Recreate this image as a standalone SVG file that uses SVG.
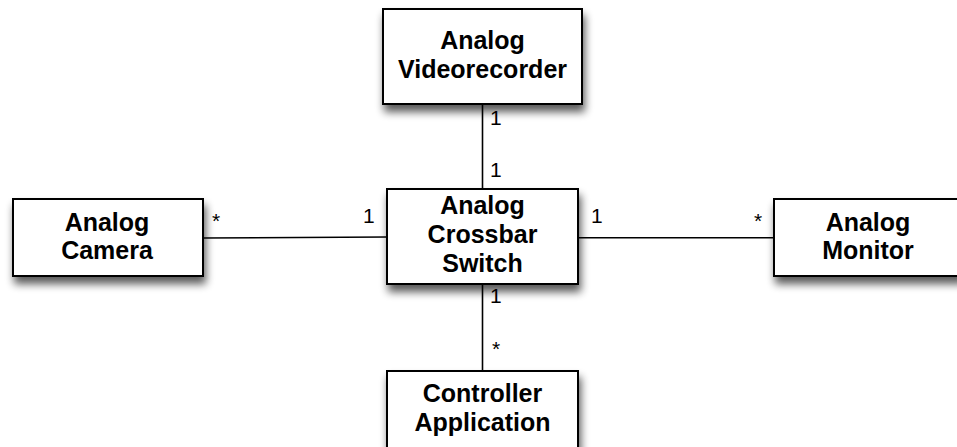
<svg xmlns="http://www.w3.org/2000/svg" width="957" height="447" viewBox="0 0 957 447">
  <defs>
    <filter id="shadow" x="-20%" y="-20%" width="140%" height="160%">
      <feGaussianBlur in="SourceAlpha" stdDeviation="4"/>
      <feOffset dx="2" dy="7" result="blur"/>
      <feComponentTransfer><feFuncA type="linear" slope="0.65"/></feComponentTransfer>
      <feMerge><feMergeNode/><feMergeNode in="SourceGraphic"/></feMerge>
    </filter>
  </defs>
  <style>
    .box { fill: #ffffff; stroke: #000000; stroke-width: 2; filter: url(#shadow); }
    .name { font-family: "Liberation Sans", Arial, Helvetica, sans-serif; font-weight: bold; font-size: 25px; fill: #000; text-anchor: middle; }
    .edge { stroke: #000; stroke-width: 1.6; fill: none; }
    .mult { font-family: "Liberation Sans", Arial, Helvetica, sans-serif; font-size: 21px; fill: #000; }
  </style>
  <rect width="957" height="447" fill="#ffffff"/>

  <g id="connectors">
    <line class="edge" x1="482.5" y1="104" x2="482.5" y2="189"/>
    <line class="edge" x1="203" y1="238" x2="387" y2="237"/>
    <line class="edge" x1="578" y1="237.7" x2="774" y2="237.7"/>
    <line class="edge" x1="482.5" y1="284" x2="482.5" y2="371"/>
    <text class="mult" x="490" y="125">1</text>
    <text class="mult" x="490" y="177">1</text>
    <text class="mult" x="212" y="228">*</text>
    <text class="mult" x="363" y="223">1</text>
    <text class="mult" x="591" y="223">1</text>
    <text class="mult" x="754" y="228">*</text>
    <text class="mult" x="490" y="303">1</text>
    <text class="mult" x="492" y="356">*</text>
  </g>

  <g id="videorecorder">
    <rect class="box" x="383" y="9" width="199" height="95"/>
    <text class="name" x="482.5" y="49">Analog</text>
    <text class="name" x="482.5" y="78">Videorecorder</text>
  </g>

  <g id="camera">
    <rect class="box" x="13" y="199" width="190" height="77"/>
    <text class="name" x="107" y="231">Analog</text>
    <text class="name" x="107" y="259">Camera</text>
  </g>

  <g id="crossbar">
    <rect class="box" x="387" y="189" width="191" height="95"/>
    <text class="name" x="482.5" y="214">Analog</text>
    <text class="name" x="482.5" y="243">Crossbar</text>
    <text class="name" x="482.5" y="272">Switch</text>
  </g>

  <g id="monitor">
    <rect class="box" x="774" y="199" width="188" height="77"/>
    <text class="name" x="868" y="231">Analog</text>
    <text class="name" x="868" y="259">Monitor</text>
  </g>

  <g id="controller">
    <rect class="box" x="387" y="371" width="191" height="95"/>
    <text class="name" x="482.5" y="402">Controller</text>
    <text class="name" x="482.5" y="431">Application</text>
  </g>
</svg>
